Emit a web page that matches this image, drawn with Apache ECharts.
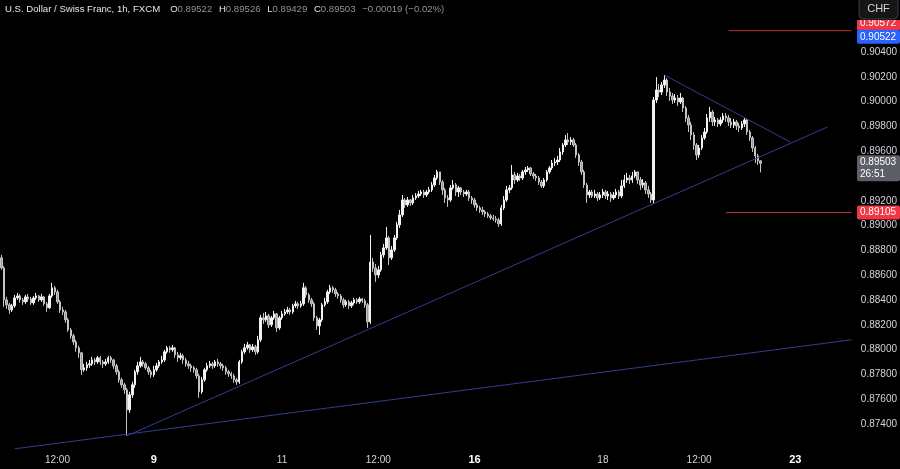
<!DOCTYPE html>
<html>
<head>
<meta charset="utf-8">
<title>USD/CHF 1h</title>
<script src="https://cdn.jsdelivr.net/npm/echarts@6/dist/echarts.min.js"></script>
<style>
  html, body { margin: 0; padding: 0; background: #000; }
  #chart { width: 900px; height: 469px; }
</style>
</head>
<body>
<div id="chart"></div>
<script>
// hourly bars, first one is Wed 4 Dec 15:00, open of each bar = previous close
const firstOpen = 0.88740;
const closes = [
  0.88659,0.88401,0.88361,0.88320,0.88353,0.88417,0.88433,0.88401,0.88385,0.88425,
  0.88409,0.88377,0.88417,0.88433,0.88401,0.88425,0.88369,0.88337,0.88433,0.88498,
  0.88465,0.88385,0.88320,0.88304,0.88240,0.88159,0.88111,0.88062,0.88014,0.87974,
  0.87837,0.87853,0.87877,0.87885,0.87917,0.87901,0.87934,0.87901,0.87885,0.87901,
  0.87934,0.87917,0.87869,0.87821,0.87756,0.87716,0.87676,0.87514,0.87635,0.87716,
  0.87821,0.87869,0.87901,0.87885,0.87853,0.87821,0.87797,0.87837,0.87869,0.87901,
  0.87917,0.87982,0.88014,0.87998,0.88014,0.87958,0.87934,0.87950,0.87917,0.87885,
  0.87869,0.87853,0.87837,0.87788,0.87660,0.87756,0.87837,0.87869,0.87885,0.87869,
  0.87901,0.87885,0.87869,0.87853,0.87821,0.87805,0.87788,0.87756,0.87740,0.87901,
  0.87982,0.88014,0.88038,0.87998,0.88022,0.87982,0.88079,0.88256,0.88240,0.88272,
  0.88200,0.88256,0.88288,0.88175,0.88256,0.88288,0.88304,0.88320,0.88304,0.88353,
  0.88369,0.88353,0.88369,0.88498,0.88441,0.88401,0.88369,0.88256,0.88191,0.88240,
  0.88361,0.88385,0.88465,0.88498,0.88482,0.88449,0.88433,0.88401,0.88361,0.88385,
  0.88353,0.88377,0.88401,0.88385,0.88409,0.88393,0.88361,0.88224,0.88707,0.88659,
  0.88602,0.88643,0.88764,0.88820,0.88901,0.88740,0.88804,0.88901,0.89006,0.89086,
  0.89207,0.89167,0.89207,0.89183,0.89223,0.89239,0.89255,0.89271,0.89247,0.89271,
  0.89288,0.89328,0.89384,0.89433,0.89352,0.89288,0.89223,0.89207,0.89304,0.89328,
  0.89271,0.89304,0.89271,0.89255,0.89271,0.89223,0.89207,0.89167,0.89143,0.89126,
  0.89110,0.89094,0.89078,0.89062,0.89054,0.89046,0.89014,0.89143,0.89207,0.89288,
  0.89304,0.89409,0.89368,0.89400,0.89384,0.89433,0.89449,0.89465,0.89417,0.89400,
  0.89384,0.89352,0.89320,0.89368,0.89433,0.89465,0.89505,0.89513,0.89529,0.89594,
  0.89650,0.89691,0.89675,0.89691,0.89650,0.89570,0.89513,0.89433,0.89328,0.89247,
  0.89271,0.89239,0.89255,0.89223,0.89247,0.89271,0.89239,0.89255,0.89223,0.89247,
  0.89271,0.89239,0.89320,0.89368,0.89384,0.89368,0.89400,0.89433,0.89368,0.89328,
  0.89344,0.89288,0.89255,0.89207,0.90013,0.90094,0.90077,0.90134,0.90174,0.90077,
  0.90045,0.90013,0.90029,0.89997,0.90029,0.89949,0.89868,0.89812,0.89731,0.89650,
  0.89570,0.89626,0.89707,0.89755,0.89868,0.89916,0.89836,0.89852,0.89820,0.89852,
  0.89884,0.89868,0.89836,0.89812,0.89836,0.89803,0.89787,0.89820,0.89852,0.89755,
  0.89707,0.89626,0.89562,0.89522,0.89503
];
const highs = [
  0.88764,0.88675,0.88425,0.88377,0.88369,0.88441,0.88457,0.88449,0.88417,0.88441,
  0.88449,0.88425,0.88433,0.88457,0.88441,0.88449,0.88433,0.88385,0.88449,0.88538,
  0.88514,0.88482,0.88401,0.88345,0.88320,0.88256,0.88175,0.88127,0.88079,0.88030,
  0.87982,0.87885,0.87901,0.87917,0.87942,0.87934,0.87950,0.87950,0.87917,0.87925,
  0.87950,0.87950,0.87925,0.87885,0.87837,0.87772,0.87732,0.87692,0.87660,0.87740,
  0.87837,0.87901,0.87942,0.87917,0.87901,0.87869,0.87837,0.87869,0.87893,0.87917,
  0.87950,0.87998,0.88030,0.88030,0.88038,0.88022,0.87982,0.87974,0.87966,0.87934,
  0.87909,0.87885,0.87869,0.87853,0.87805,0.87780,0.87853,0.87893,0.87909,0.87901,
  0.87917,0.87925,0.87901,0.87885,0.87869,0.87837,0.87821,0.87805,0.87772,0.87917,
  0.87998,0.88046,0.88062,0.88046,0.88046,0.88038,0.88111,0.88280,0.88296,0.88304,
  0.88288,0.88272,0.88312,0.88296,0.88272,0.88312,0.88328,0.88345,0.88337,0.88369,
  0.88393,0.88385,0.88393,0.88538,0.88514,0.88457,0.88417,0.88385,0.88272,0.88256,
  0.88377,0.88417,0.88482,0.88522,0.88514,0.88498,0.88465,0.88449,0.88417,0.88401,
  0.88401,0.88393,0.88417,0.88417,0.88425,0.88417,0.88409,0.88377,0.88925,0.88740,
  0.88691,0.88675,0.88788,0.88852,0.88989,0.88917,0.88836,0.88925,0.89030,0.89126,
  0.89247,0.89223,0.89231,0.89215,0.89247,0.89263,0.89280,0.89288,0.89288,0.89288,
  0.89312,0.89352,0.89409,0.89449,0.89433,0.89368,0.89304,0.89247,0.89328,0.89368,
  0.89344,0.89320,0.89312,0.89288,0.89288,0.89288,0.89239,0.89223,0.89183,0.89159,
  0.89151,0.89126,0.89110,0.89094,0.89086,0.89078,0.89062,0.89167,0.89239,0.89320,
  0.89328,0.89489,0.89433,0.89425,0.89417,0.89449,0.89473,0.89481,0.89473,0.89433,
  0.89417,0.89400,0.89368,0.89384,0.89449,0.89481,0.89529,0.89546,0.89562,0.89626,
  0.89666,0.89731,0.89747,0.89715,0.89707,0.89666,0.89586,0.89529,0.89449,0.89344,
  0.89288,0.89288,0.89288,0.89271,0.89271,0.89296,0.89288,0.89280,0.89271,0.89271,
  0.89296,0.89288,0.89368,0.89409,0.89425,0.89409,0.89433,0.89449,0.89433,0.89392,
  0.89376,0.89360,0.89320,0.89271,0.90037,0.90198,0.90142,0.90158,0.90214,0.90190,
  0.90110,0.90069,0.90061,0.90053,0.90069,0.90037,0.89965,0.89892,0.89836,0.89755,
  0.89666,0.89650,0.89731,0.89787,0.89900,0.89957,0.89932,0.89876,0.89868,0.89876,
  0.89908,0.89908,0.89892,0.89868,0.89860,0.89852,0.89828,0.89844,0.89868,0.89860,
  0.89771,0.89723,0.89642,0.89578,0.89526
];
const lows = [
  0.88643,0.88345,0.88328,0.88288,0.88304,0.88337,0.88401,0.88377,0.88361,0.88369,
  0.88385,0.88361,0.88361,0.88401,0.88385,0.88385,0.88353,0.88304,0.88328,0.88417,
  0.88441,0.88369,0.88296,0.88280,0.88216,0.88143,0.88087,0.88038,0.87982,0.87934,
  0.87797,0.87821,0.87829,0.87853,0.87869,0.87877,0.87885,0.87877,0.87853,0.87869,
  0.87885,0.87893,0.87845,0.87797,0.87732,0.87692,0.87643,0.87305,0.87490,0.87611,
  0.87692,0.87797,0.87853,0.87861,0.87837,0.87797,0.87772,0.87780,0.87821,0.87853,
  0.87885,0.87901,0.87966,0.87974,0.87982,0.87934,0.87901,0.87917,0.87885,0.87861,
  0.87845,0.87821,0.87813,0.87764,0.87611,0.87643,0.87740,0.87821,0.87853,0.87845,
  0.87853,0.87861,0.87845,0.87829,0.87797,0.87780,0.87764,0.87732,0.87716,0.87724,
  0.87885,0.87966,0.87998,0.87974,0.87982,0.87958,0.87966,0.88062,0.88208,0.88224,
  0.88175,0.88183,0.88240,0.88143,0.88159,0.88240,0.88272,0.88288,0.88280,0.88288,
  0.88337,0.88328,0.88337,0.88353,0.88417,0.88377,0.88345,0.88232,0.88159,0.88119,
  0.88224,0.88345,0.88369,0.88449,0.88457,0.88425,0.88409,0.88377,0.88337,0.88345,
  0.88328,0.88337,0.88361,0.88369,0.88369,0.88377,0.88337,0.88175,0.88208,0.88627,
  0.88546,0.88578,0.88627,0.88740,0.88804,0.88683,0.88723,0.88788,0.88885,0.88981,
  0.89070,0.89143,0.89151,0.89159,0.89167,0.89207,0.89223,0.89239,0.89223,0.89231,
  0.89255,0.89271,0.89312,0.89368,0.89328,0.89247,0.89183,0.89151,0.89191,0.89288,
  0.89239,0.89231,0.89247,0.89231,0.89239,0.89199,0.89175,0.89143,0.89118,0.89102,
  0.89086,0.89070,0.89062,0.89046,0.89038,0.89022,0.88989,0.88997,0.89126,0.89191,
  0.89263,0.89288,0.89336,0.89352,0.89360,0.89368,0.89409,0.89433,0.89400,0.89376,
  0.89360,0.89328,0.89304,0.89304,0.89352,0.89417,0.89449,0.89481,0.89489,0.89513,
  0.89570,0.89634,0.89650,0.89650,0.89634,0.89546,0.89481,0.89409,0.89304,0.89183,
  0.89223,0.89223,0.89223,0.89199,0.89207,0.89223,0.89215,0.89207,0.89191,0.89207,
  0.89223,0.89215,0.89223,0.89304,0.89344,0.89336,0.89344,0.89384,0.89336,0.89288,
  0.89304,0.89255,0.89223,0.89183,0.89175,0.89989,0.90037,0.90053,0.90110,0.90045,
  0.90005,0.89981,0.89989,0.89965,0.89981,0.89916,0.89836,0.89755,0.89691,0.89610,
  0.89529,0.89546,0.89610,0.89691,0.89739,0.89836,0.89803,0.89803,0.89795,0.89803,
  0.89828,0.89836,0.89803,0.89787,0.89787,0.89771,0.89755,0.89771,0.89795,0.89731,
  0.89683,0.89594,0.89505,0.89489,0.89429
];

// time axis labels (bar index -> text), bold ones are week starts
const tickIndex = [21, 57, 105, 141, 177, 225, 261, 297];
const tickText  = ['12:00', '9', '11', '12:00', '16', '18', '12:00', '23'];
const tickBold  = [false, true, false, false, true, false, false, true];
// price labels hidden behind the tags / off the scale
const hiddenTicks = [0.872, 0.894, 0.906, 0.908];

// drawings, as [bar index, price]
const trendUp   = [[47, 0.87305], [309, 0.89795]];
const trendLong = [[5, 0.87200], [318, 0.88079]];
const trendDown = [[248, 0.90214], [295, 0.89675]];
const levelBlue = 0.90522;
const levelRedTop = [[272, 0.90572], [318, 0.90572]];
const levelRedLow = [[271, 0.89105], [318, 0.89105]];
const countdown = '26:51';

// hourly categories, market closed Fri 22:00 -> Sun 22:00
const totalBars = 319;
const categories = [];
let t = Date.UTC(2024, 11, 4, 15);
while (categories.length < totalBars) {
  const d = new Date(t);
  const wd = d.getUTCDay(), h = d.getUTCHours();
  const closed = (wd === 5 && h >= 22) || wd === 6 || (wd === 0 && h < 22);
  if (!closed) categories.push(d.toISOString().slice(0, 13) + ':00');
  t += 3600000;
}

const candles = closes.map((c, i) => [i ? closes[i - 1] : firstOpen, c, lows[i], highs[i]]);
const last = candles[candles.length - 1];

const lineColor = '#323e93';
const redColor = '#f23645';
const textColor = '#d1d4dc';
const font = 'Liberation Sans';

function drawLine(data, color) {
  return {
    type: 'line',
    data: data,
    showSymbol: false,
    silent: true,
    lineStyle: { color: color, width: 1 },
    z: 3
  };
}

const chart = echarts.init(document.getElementById('chart'));

const option = {
  backgroundColor: '#000000',
  animation: false,
  grid: { left: 0, right: 45, top: 2.4, bottom: 20.2 },
  xAxis: {
    type: 'category',
    data: categories,
    axisLine: { show: false },
    axisTick: { show: false },
    splitLine: { show: false },
    axisLabel: {
      color: textColor,
      fontFamily: font,
      fontSize: 10,
      margin: 6,
      interval: (idx) => tickIndex.indexOf(idx) >= 0,
      formatter: (val, idx) => {
        const k = tickIndex.indexOf(idx);
        if (k < 0) return '';
        return tickBold[k] ? '{b|' + tickText[k] + '}' : tickText[k];
      },
      rich: { b: { fontWeight: 'bold', color: '#ffffff', fontSize: 11, fontFamily: font } }
    }
  },
  yAxis: {
    type: 'value',
    position: 'right',
    min: 0.872,
    max: 0.908,
    interval: 0.002,
    axisLine: { show: false },
    axisTick: { show: false },
    splitLine: { show: false },
    axisLabel: {
      color: textColor,
      fontFamily: font,
      fontSize: 10,
      margin: 8,
      formatter: (v) => hiddenTicks.some((h) => Math.abs(h - v) < 1e-6) ? '' : v.toFixed(5)
    }
  },
  series: [
    {
      type: 'candlestick',
      data: candles,
      barWidth: '72%',
      itemStyle: {
        color: '#f2f2f2',
        color0: '#9b9b9b',
        borderColor: '#f2f2f2',
        borderColor0: '#c4c4c4',
        borderWidth: 1
      },
      markLine: {
        silent: true,
        symbol: 'none',
        label: { show: false },
        lineStyle: { color: lineColor, width: 1, type: 'solid' },
        data: [{ yAxis: levelBlue }]
      },
      z: 2
    },
    drawLine(trendUp, lineColor),
    drawLine(trendLong, lineColor),
    drawLine(trendDown, lineColor),
    drawLine(levelRedTop, '#b8323b'),
    drawLine(levelRedLow, '#b8323b')
  ]
};

chart.setOption(option);

// price tags on the right axis + header, placed through the axis scale
const yOf = (p) => chart.convertToPixel({ yAxisIndex: 0 }, p);
const tagX = 857, tagW = 43;
const tagFont = '10px "' + font + '"';
function priceTag(price, bg, yc, h, z) {
  return [
    { type: 'rect', z: z, shape: { x: tagX, y: yc - h / 2, width: tagW, height: h, r: 2 }, style: { fill: bg } },
    { type: 'text', z: z + 1, style: { x: tagX + 3, y: yc, text: price.toFixed(5), fill: '#ffffff',
      font: tagFont, verticalAlign: 'middle' } }
  ];
}

const chg = last[1] - last[0];
const pct = chg / last[0] * 100;
const signed = (v, n) => (v < 0 ? '\u2212' : '+') + Math.abs(v).toFixed(n);
const yLast = yOf(last[1]);
const hdrFont = '9.6px "' + font + '"';

chart.setOption({
  graphic: [
    {
      type: 'text', z: 100, left: 5, top: 3,
      style: {
        text: '{t|U.S. Dollar / Swiss Franc, 1h, FXCM}   {k|O}{v|' + last[0].toFixed(5) + '}  {k|H}{v|' + last[3].toFixed(5) +
          '}  {k|L}{v|' + last[2].toFixed(5) + '}  {k|C}{v|' + last[1].toFixed(5) + '}  {v|' +
          signed(chg, 5) + ' (' + signed(pct, 2) + '%)}',
        rich: {
          t: { fill: '#e6e6e6', font: hdrFont },
          k: { fill: '#e6e6e6', font: hdrFont },
          v: { fill: '#8f939c', font: hdrFont }
        }
      }
    },
    ...priceTag(levelRedTop[0][1], redColor, yOf(levelRedTop[0][1]) - 7, 14, 100),
    // top-right corner stays black above the tags
    { type: 'rect', z: 110, shape: { x: 856, y: 0, width: 44, height: 20 }, style: { fill: '#000000' } },
    { type: 'rect', z: 111, shape: { x: 859, y: -4, width: 39, height: 23, r: 4 }, style: { fill: '#161616', stroke: '#3a3d45', lineWidth: 1 } },
    { type: 'text', z: 112, style: { x: 878.5, y: 9, text: 'CHF', fill: textColor, font: '11px "' + font + '"', align: 'center', verticalAlign: 'middle' } },
    ...priceTag(levelBlue, '#2962ff', yOf(levelBlue), 14, 120),
    ...priceTag(levelRedLow[0][1], redColor, yOf(levelRedLow[0][1]), 14, 100),
    { type: 'rect', z: 100, shape: { x: tagX, y: yLast - 8, width: tagW, height: 26, r: 2 }, style: { fill: '#5d5f66' } },
    { type: 'text', z: 101, style: { x: tagX + 3, y: yLast - 1, text: last[1].toFixed(5), fill: '#ffffff', font: tagFont, verticalAlign: 'middle' } },
    { type: 'text', z: 101, style: { x: tagX + 3, y: yLast + 11, text: countdown, fill: '#ffffff', font: tagFont, verticalAlign: 'middle' } }
  ]
});

window.addEventListener('resize', () => chart.resize());
</script>
</body>
</html>
